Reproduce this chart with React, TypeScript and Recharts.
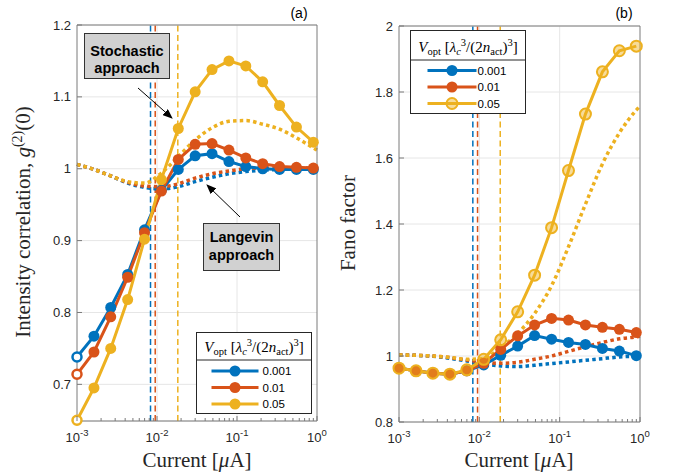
import { LineChart, Line, XAxis, YAxis, CartesianGrid, ReferenceLine } from "recharts"

// bias currents (uA); last point only used by the Langevin curves
const currents = [0.001, 0.00163, 0.00264, 0.0043, 0.00698, 0.01135, 0.01845, 0.03, 0.04875, 0.0793, 0.1288, 0.2094, 0.3404, 0.5534, 0.8995, 1.0]

const vOptLabels = ["0.001", "0.01", "0.05"]
const colors = ["#0072BD", "#D95319", "#EDB120"]
const thresholds = [0.0083, 0.0095, 0.0182]

// (a) g2(0), stochastic approach
const g2Stoch001 = [0.738, 0.767, 0.807, 0.853, 0.915, 0.970, 0.999, 1.018, 1.021, 1.010, 1.003, 1.0, 0.999, 0.999, 0.999]
const g2Stoch01 = [0.714, 0.745, 0.794, 0.849, 0.911, 0.969, 1.013, 1.034, 1.035, 1.026, 1.015, 1.007, 1.003, 1.002, 1.001]
const g2Stoch05 = [0.65, 0.695, 0.75, 0.818, 0.902, 0.985, 1.056, 1.107, 1.138, 1.15, 1.143, 1.121, 1.088, 1.058, 1.037]
// (a) g2(0), Langevin approach
const g2Lang001 = [1.006, 0.999, 0.99, 0.98, 0.974, 0.972, 0.975, 0.982, 0.988, 0.993, 0.996, 0.998, 0.999, 1.0, 1.0, 1.0]
const g2Lang01 = [1.006, 0.999, 0.99, 0.981, 0.976, 0.975, 0.979, 0.987, 0.993, 0.997, 1.0, 1.001, 1.001, 1.001, 1.001, 1.001]
const g2Lang05 = [1.006, 0.999, 0.99, 0.982, 0.98, 0.994, 1.017, 1.04, 1.057, 1.066, 1.067, 1.062, 1.055, 1.043, 1.029, 1.026]

// (b) Fano factor, stochastic approach
const fanoStoch001 = [0.963, 0.955, 0.948, 0.945, 0.955, 0.973, 1.002, 1.03, 1.062, 1.051, 1.041, 1.035, 1.023, 1.015, 1.001]
const fanoStoch01 = [0.963, 0.955, 0.948, 0.945, 0.955, 0.978, 1.02, 1.061, 1.094, 1.114, 1.109, 1.094, 1.087, 1.081, 1.071]
const fanoStoch05 = [0.963, 0.955, 0.948, 0.945, 0.958, 0.99, 1.049, 1.134, 1.245, 1.389, 1.562, 1.733, 1.861, 1.925, 1.939]
// (b) Fano factor, Langevin approach
const fanoLang001 = [1.003, 1.002, 0.999, 0.993, 0.985, 0.976, 0.97, 0.968, 0.972, 0.977, 0.982, 0.987, 0.992, 0.997, 1.0, 1.001]
const fanoLang01 = [1.003, 1.002, 1.0, 0.995, 0.988, 0.981, 0.978, 0.981, 0.99, 1.0, 1.014, 1.028, 1.041, 1.052, 1.058, 1.06]
const fanoLang05 = [1.003, 1.002, 1.0, 0.996, 0.99, 0.992, 1.026, 1.068, 1.129, 1.213, 1.331, 1.46, 1.582, 1.676, 1.745, 1.757]

const majorX = [0.001, 0.01, 0.1, 1]
const minorX = [0.002, 0.003, 0.004, 0.005, 0.006, 0.007, 0.008, 0.009, 0.02, 0.03, 0.04, 0.05, 0.06, 0.07, 0.08, 0.09, 0.2, 0.3, 0.4, 0.5, 0.6, 0.7, 0.8, 0.9]
const g2Ticks = [0.7, 0.8, 0.9, 1, 1.1, 1.2]
const fanoTicks = [0.8, 1, 1.2, 1.4, 1.6, 1.8, 2]

const AXIS = "#7a7a7a"
const TEXT = "#262626"
const SANS = "'Liberation Sans', Arial, sans-serif"
const SERIF = "'Liberation Serif', 'Times New Roman', serif"

const isMajor = (v: number) => majorX.some((m) => Math.abs(m - v) < 1e-9)

function buildRows(solid: number[][], lang: number[][]) {
  return currents.map((c, i) => ({
    x: c,
    s0: solid[0][i] ?? null,
    s1: solid[1][i] ?? null,
    s2: solid[2][i] ?? null,
    d0: lang[0][i],
    d1: lang[1][i],
    d2: lang[2][i],
  }))
}

const BottomTick = (p: any) => {
  const { x, y, payload } = p
  const v = payload.value
  const major = isMajor(v)
  return (
    <g>
      <line x1={x} x2={x} y1={y} y2={y - (major ? 5 : 3)} stroke={AXIS} />
      {major && (
        <text x={x} y={y + 21} textAnchor="middle" fontFamily={SANS} fontSize={13} fill={TEXT}>
          <tspan>10</tspan>
          <tspan fontSize={9.5} dy={-6}>{Math.round(Math.log10(v))}</tspan>
        </text>
      )}
    </g>
  )
}

const TopTick = (p: any) => {
  const { x, y, payload } = p
  const major = isMajor(payload.value)
  return <line x1={x} x2={x} y1={y} y2={y + (major ? 5 : 3)} stroke={AXIS} />
}

const LeftTick = (p: any) => {
  const { x, y, payload } = p
  return (
    <g>
      <line x1={x} x2={x + 5} y1={y} y2={y} stroke={AXIS} />
      <text x={x - 6} y={y + 4.5} textAnchor="end" fontFamily={SANS} fontSize={13} fill={TEXT}>
        {String(Number(payload.value.toFixed(2)))}
      </text>
    </g>
  )
}

const RightTick = (p: any) => {
  const { x, y } = p
  return <line x1={x} x2={x - 5} y1={y} y2={y} stroke={AXIS} />
}

const makeDot = (color: string, ringFirst: boolean, hollow: boolean) => (p: any) => {
  const { cx, cy, index } = p
  if (cx == null || cy == null) return <g key={`n${index}`} />
  if (hollow) {
    return <circle key={`d${index}`} cx={cx} cy={cy} r={5.5} fill={color} fillOpacity={0.45} stroke={color} strokeWidth={2} />
  }
  if (ringFirst && index === 0) {
    return <circle key={`d${index}`} cx={cx} cy={cy} r={4.5} fill="#fff" stroke={color} strokeWidth={2.5} />
  }
  return <circle key={`d${index}`} cx={cx} cy={cy} r={5.5} fill={color} stroke="none" />
}

type PanelProps = {
  left: number
  width: number
  margin: { top: number; right: number; bottom: number; left: number }
  yWidth: number
  yDomain: [number, number]
  yTicks: number[]
  rows: any[]
  hollowYellow: boolean
}

function Panel({ left, width, margin, yWidth, yDomain, yTicks, rows, hollowYellow }: PanelProps) {
  return (
    <div style={{ position: "absolute", left, top: 0 }}>
      <LineChart width={width} height={475} data={rows} margin={margin}>
        <CartesianGrid xAxisId="x" yAxisId="y" stroke="#e6e6e6" verticalValues={[0.01, 0.1]} />
        <XAxis
          xAxisId="x"
          dataKey="x"
          type="number"
          scale="log"
          domain={[0.001, 1]}
          ticks={[...majorX, ...minorX]}
          interval={0}
          height={30}
          tickSize={0}
          tickMargin={0}
          tick={BottomTick}
          axisLine={{ stroke: AXIS }}
          tickLine={false}
        />
        <XAxis
          xAxisId="xt"
          orientation="top"
          type="number"
          scale="log"
          domain={[0.001, 1]}
          ticks={[...majorX, ...minorX]}
          interval={0}
          height={5}
          tickSize={0}
          tickMargin={0}
          tick={TopTick}
          axisLine={{ stroke: AXIS }}
          tickLine={false}
        />
        <YAxis
          yAxisId="y"
          type="number"
          domain={yDomain}
          ticks={yTicks}
          interval={0}
          width={yWidth}
          tickSize={0}
          tickMargin={0}
          tick={LeftTick}
          axisLine={{ stroke: AXIS }}
          tickLine={false}
        />
        <YAxis
          yAxisId="yr"
          orientation="right"
          type="number"
          domain={yDomain}
          ticks={yTicks}
          interval={0}
          width={5}
          tickSize={0}
          tickMargin={0}
          tick={RightTick}
          axisLine={{ stroke: AXIS }}
          tickLine={false}
        />
        {thresholds.map((t, i) => (
          <ReferenceLine key={`t${i}`} xAxisId="x" yAxisId="y" x={t} stroke={colors[i]} strokeWidth={1.5} strokeDasharray="6 3.5" />
        ))}
        {[0, 1, 2].map((i) => (
          <Line
            key={`d${i}`}
            xAxisId="x"
            yAxisId="y"
            dataKey={`d${i}`}
            type="monotone"
            stroke={colors[i]}
            strokeWidth={3.5}
            strokeDasharray="3.5 3.2"
            dot={false}
            isAnimationActive={false}
          />
        ))}
        {[0, 1, 2].map((i) => (
          <Line
            key={`s${i}`}
            xAxisId="x"
            yAxisId="y"
            dataKey={`s${i}`}
            type="linear"
            stroke={colors[i]}
            strokeWidth={3}
            dot={makeDot(colors[i], !hollowYellow, hollowYellow && i === 2)}
            isAnimationActive={false}
          />
        ))}
      </LineChart>
    </div>
  )
}

function VoptHeader({ x, y }: { x: number; y: number }) {
  return (
    <text x={x} y={y} textAnchor="middle" fontFamily={SERIF} fontSize={15} fill="#000">
      <tspan fontStyle="italic">V</tspan>
      <tspan fontSize={10.5} dy={3}>opt</tspan>
      <tspan dy={-3}>{"\u00a0["}</tspan>
      <tspan fontStyle="italic">λ</tspan>
      <tspan fontStyle="italic" fontSize={10.5} dy={3}>c</tspan>
      <tspan fontSize={10.5} dy={-9}>3</tspan>
      <tspan dy={6}>/(2</tspan>
      <tspan fontStyle="italic">n</tspan>
      <tspan fontSize={10.5} dy={3}>act</tspan>
      <tspan dy={-3}>)</tspan>
      <tspan fontSize={10.5} dy={-6}>3</tspan>
      <tspan dy={6}>]</tspan>
    </text>
  )
}

function LegendBox({ x, y, w, h, sep, rowY, lx1, lx2, tx, hollowYellow }: any) {
  return (
    <g>
      <rect x={x} y={y} width={w} height={h} fill="#fff" stroke="#262626" strokeWidth={1} />
      <line x1={x} x2={x + w} y1={y + sep} y2={y + sep} stroke="#262626" strokeWidth={1} />
      <VoptHeader x={x + w / 2} y={y + sep - 8} />
      {vOptLabels.map((lab, i) => {
        const cy = y + rowY[i]
        const mx = (x + lx1 + x + lx2) / 2
        const hollow = hollowYellow && i === 2
        return (
          <g key={lab}>
            <line x1={x + lx1} x2={x + lx2} y1={cy} y2={cy} stroke={colors[i]} strokeWidth={3} />
            {hollow ? (
              <circle cx={mx} cy={cy} r={5.5} fill={colors[i]} fillOpacity={0.45} stroke={colors[i]} strokeWidth={2} />
            ) : (
              <circle cx={mx} cy={cy} r={5.5} fill={colors[i]} />
            )}
            <text x={x + tx} y={cy + 4} fontFamily={SANS} fontSize={11.5} fill="#000">
              {lab}
            </text>
          </g>
        )
      })}
    </g>
  )
}

function Callout({ x, y, w, h, lines, l1, l2 }: any) {
  return (
    <g>
      <rect x={x} y={y} width={w} height={h} fill="#d1d1d1" stroke="#333" strokeWidth={1} />
      <text x={x + w / 2} y={y + l1} textAnchor="middle" fontFamily={SANS} fontWeight="bold" fontSize={14.5} fill="#000">
        {lines[0]}
      </text>
      <text x={x + w / 2} y={y + l2} textAnchor="middle" fontFamily={SANS} fontWeight="bold" fontSize={14.5} fill="#000">
        {lines[1]}
      </text>
    </g>
  )
}

export default function App() {
  const g2Rows = buildRows([g2Stoch001, g2Stoch01, g2Stoch05], [g2Lang001, g2Lang01, g2Lang05])
  const fanoRows = buildRows([fanoStoch001, fanoStoch01, fanoStoch05], [fanoLang001, fanoLang01, fanoLang05])

  return (
    <div style={{ position: "absolute", left: 0, top: 0, width: 673, height: 475, background: "#fff", overflow: "hidden" }}>
      <Panel
        left={0}
        width={340}
        margin={{ top: 20, right: 18, bottom: 24, left: 17 }}
        yWidth={60}
        yDomain={[0.649, 1.2]}
        yTicks={g2Ticks}
        rows={g2Rows}
        hollowYellow={false}
      />
      <Panel
        left={340}
        width={333}
        margin={{ top: 21, right: 28, bottom: 23, left: 9 }}
        yWidth={50}
        yDomain={[0.8, 2]}
        yTicks={fanoTicks}
        rows={fanoRows}
        hollowYellow={true}
      />
      <svg width={673} height={475} style={{ position: "absolute", left: 0, top: 0, pointerEvents: "none" }}>
        <defs>
          <marker id="arrowHead" markerWidth="10" markerHeight="8" refX="9" refY="4" orient="auto" markerUnits="userSpaceOnUse">
            <path d="M0,0 L10,4 L0,8 z" fill="#000" />
          </marker>
        </defs>

        <text x={299} y={18} textAnchor="middle" fontFamily={SANS} fontSize={14} fill="#000">(a)</text>
        <text x={624} y={18} textAnchor="middle" fontFamily={SANS} fontSize={14} fill="#000">(b)</text>

        <text x={197} y={467} textAnchor="middle" fontFamily={SERIF} fontSize={21} fill={TEXT}>
          Current [<tspan fontStyle="italic">μ</tspan>A]
        </text>
        <text x={519} y={467} textAnchor="middle" fontFamily={SERIF} fontSize={21} fill={TEXT}>
          Current [<tspan fontStyle="italic">μ</tspan>A]
        </text>
        <text transform="translate(30,222) rotate(-90)" textAnchor="middle" fontFamily={SERIF} fontSize={21} fill={TEXT}>
          Intensity correlation,{"\u00a0"}<tspan fontStyle="italic">g</tspan>
          <tspan fontSize={14} dy={-8}>(2)</tspan>
          <tspan dy={8}>(0)</tspan>
        </text>
        <text transform="translate(355,223) rotate(-90)" textAnchor="middle" fontFamily={SERIF} fontSize={21} fill={TEXT}>
          Fano factor
        </text>

        <Callout x={84.5} y={33.5} w={85} h={45} lines={["Stochastic", "approach"]} l1={22} l2={39} />
        <line x1={138} y1={88} x2={172} y2={118} stroke="#000" strokeWidth={1} markerEnd="url(#arrowHead)" />
        <Callout x={203.5} y={223.5} w={76} h={47} lines={["Langevin", "approach"]} l1={18} l2={36} />
        <line x1={240} y1={217} x2={207} y2={185} stroke="#000" strokeWidth={1} markerEnd="url(#arrowHead)" />

        <LegendBox x={196.5} y={332.5} w={115} h={81} sep={27.5} rowY={[38.5, 55, 71.5]} lx1={15} lx2={62} tx={66} hollowYellow={false} />
        <LegendBox x={410.5} y={30.5} w={115} h={83} sep={29.5} rowY={[40, 56.5, 73]} lx1={17} lx2={66} tx={67} hollowYellow={true} />
      </svg>
    </div>
  )
}
